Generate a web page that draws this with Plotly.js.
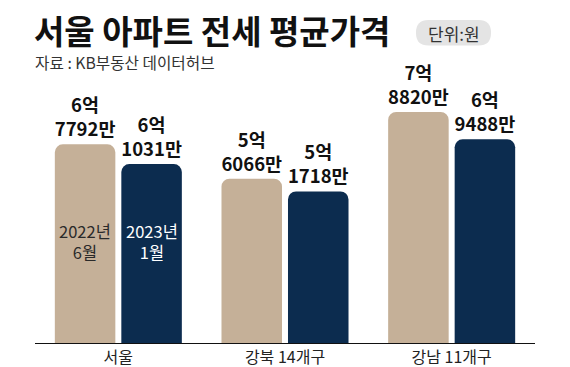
<!DOCTYPE html>
<html>
<head>
<meta charset="utf-8">
<script src="https://cdn.plot.ly/plotly-3.0.1.min.js"></script>
<style>
html,body{margin:0;padding:0;background:#fff;}
#chart{width:570px;height:367px;}
</style>
</head>
<body>
<div id="chart"></div>
<script>
// Data (unit: 만원)
const categories = ['서울', '강북 14개구', '강남 11개구'];
const jun2022 = [67792, 56066, 78820];
const jan2023 = [61031, 51718, 69488];
const seriesNames = ['2022년<br>6월', '2023년<br>1월'];

const FONT = '"Noto Sans CJK KR", "Noto Sans", sans-serif';
const TAN = '#c5b098';
const NAVY = '#0c2c4f';

function fmt(v) {
  return Math.floor(v / 10000) + '억<br>' + (v % 10000) + '만';
}

// layout geometry (pixels)
const W = 570, H = 367;
const M = {l: 35, r: 35, t: 100, b: 24};
const PW = W - M.l - M.r, PH = H - M.t - M.b;
const px2x = p => (p - M.l) / PW;
const px2y = p => (H - M.b - p) / PH;

function pill(x0, y0, x1, y1, r) {
  const X = px2x, Y = px2y;
  return 'M' + X(x0 + r) + ',' + Y(y0) +
    ' L' + X(x1 - r) + ',' + Y(y0) +
    ' Q' + X(x1) + ',' + Y(y0) + ' ' + X(x1) + ',' + Y(y0 + r) +
    ' L' + X(x1) + ',' + Y(y1 - r) +
    ' Q' + X(x1) + ',' + Y(y1) + ' ' + X(x1 - r) + ',' + Y(y1) +
    ' L' + X(x0 + r) + ',' + Y(y1) +
    ' Q' + X(x0) + ',' + Y(y1) + ' ' + X(x0) + ',' + Y(y1 - r) +
    ' L' + X(x0) + ',' + Y(y0 + r) +
    ' Q' + X(x0) + ',' + Y(y0) + ' ' + X(x0 + r) + ',' + Y(y0) + ' Z';
}

const common = {
  type: 'bar',
  x: categories,
  textposition: 'outside',
  cliponaxis: false,
  constraintext: 'none',
  outsidetextfont: {family: FONT, size: 18.5, color: '#111', weight: 'bold'},
  hoverinfo: 'skip'
};

const traces = [
  Object.assign({}, common, {
    y: jun2022, text: jun2022.map(fmt),
    marker: {color: TAN, cornerradius: 8}
  }),
  Object.assign({}, common, {
    y: jan2023, text: jan2023.map(fmt),
    marker: {color: NAVY, cornerradius: 8}
  })
];

const yMax = 82900;

const layout = {
  width: W, height: H,
  margin: M,
  paper_bgcolor: '#fff', plot_bgcolor: '#fff',
  showlegend: false,
  barmode: 'group',
  bargap: 0.202,
  bargroupgap: 0.09,
  font: {family: FONT},
  xaxis: {
    type: 'category',
    range: [-0.5, 2.5],
    showline: true, linecolor: '#111', linewidth: 1,
    ticks: '', showgrid: false, zeroline: false,
    tickfont: {family: FONT, size: 16, color: '#222'},
    fixedrange: true
  },
  yaxis: {
    range: [0, yMax],
    visible: false, showgrid: false, zeroline: false,
    fixedrange: true
  },
  shapes: [{
    type: 'path', xref: 'paper', yref: 'paper',
    path: pill(416, 20, 491, 45.5, 12.5),
    fillcolor: '#e4e4e4', line: {width: 0}, layer: 'below'
  }],
  annotations: [
    {
      xref: 'paper', yref: 'paper', x: px2x(32), y: px2y(29.5),
      xanchor: 'left', yanchor: 'middle', showarrow: false,
      text: '<b>서울 아파트 전세 평균가격</b>',
      font: {family: FONT, size: 33, color: '#111'}
    },
    {
      xref: 'paper', yref: 'paper', x: px2x(33), y: px2y(62.5),
      xanchor: 'left', yanchor: 'middle', showarrow: false,
      text: '자료 : KB부동산 데이터허브',
      font: {family: FONT, size: 15.7, color: '#333'}
    },
    {
      xref: 'paper', yref: 'paper', x: px2x(453.5), y: px2y(33),
      xanchor: 'center', yanchor: 'middle', showarrow: false,
      text: '단위:원',
      font: {family: FONT, size: 17, color: '#333'}
    },
    {
      xref: 'x', yref: 'y', x: categories[0], y: 34470, xshift: -33.25,
      xanchor: 'center', yanchor: 'middle', showarrow: false,
      text: seriesNames[0],
      font: {family: FONT, size: 16.5, color: '#2a2a2a'}
    },
    {
      xref: 'x', yref: 'y', x: categories[0], y: 34470, xshift: 33.25,
      xanchor: 'center', yanchor: 'middle', showarrow: false,
      text: seriesNames[1],
      font: {family: FONT, size: 16.5, color: '#ffffff'}
    }
  ]
};

Plotly.newPlot('chart', traces, layout, {displayModeBar: false, staticPlot: true});
</script>
</body>
</html>
